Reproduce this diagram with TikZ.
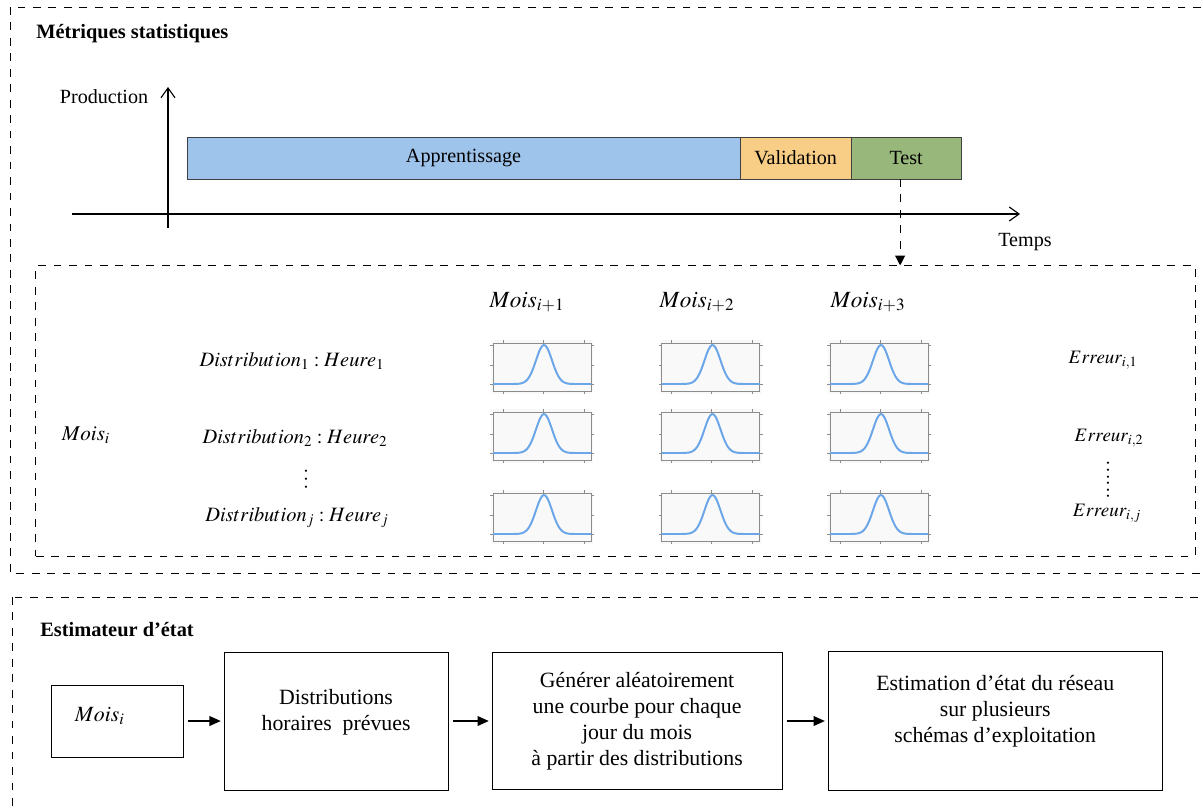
\documentclass[tikz,border=0pt]{standalone}
\usepackage{mathptmx}
\usepackage{fontspec}
\setmainfont{Liberation Serif}
\usetikzlibrary{
	positioning,
	arrows.meta
}
\definecolor{apprcolor}{HTML}{9FC4EC}
\definecolor{validcolor}{HTML}{F8CD86}
\definecolor{testcolor}{HTML}{98B77A}
\definecolor{curvecolor}{HTML}{6AA6E8}
\definecolor{plotframe}{HTML}{8C8C8C}
\tikzset{
	phasenode/.style={
		draw=black!75,
		line width=0.6pt,
		minimum height=1.05cm,
		inner sep=0pt,
		outer sep=0pt,
		font=\fontsize{14.3}{17}\selectfont
	},
	blocknode/.style={
		draw=black,
		line width=0.7pt,
		align=center,
		inner sep=0pt,
		font=\fontsize{15.5}{18.5}\selectfont
	},
	zonenode/.style={
		draw,
		dashed,
		dash pattern=on 5.5pt off 5.5pt,
		line width=0.7pt,
		inner sep=0pt
	},
	zoneline/.style={
		dashed,
		dash pattern=on 5.5pt off 5.5pt,
		line width=0.7pt
	},
	titlenode/.style={
		anchor=west,
		inner sep=0pt,
		font=\fontsize{14.5}{17}\selectfont\bfseries
	},
	textlabel/.style={
		inner sep=0pt,
		font=\fontsize{14.3}{17}\selectfont
	},
	mathlabel/.style={
		inner sep=0pt,
		font=\fontsize{14.5}{17}\selectfont
	},
	monthlabel/.style={
		inner sep=0pt,
		font=\fontsize{16.5}{19}\selectfont
	},
	errlabel/.style={
		inner sep=0pt,
		font=\fontsize{13.5}{16}\selectfont
	},
	dotsnode/.style={
		inner sep=0pt,
		rotate=90,
		font=\fontsize{13}{15}\selectfont
	},
	axisarrow/.style={
		-{Straight Barb[length=7pt,width=10pt]},
		line width=0.8pt
	},
	arrow/.style={
		-{Triangle[length=8pt,width=7pt]},
		line width=0.8pt,
		shorten <=3pt,
		shorten >=2pt
	},
	dasharrow/.style={
		-{Triangle[length=7pt,width=7pt]},
		dashed,
		dash pattern=on 5.5pt off 5.5pt,
		line width=0.8pt
	},
	gaussplot/.pic={
		\fill[gray!5] (-51,-26) rectangle (51,28);
		\draw[plotframe, line width=0.5pt] (-49,-23) rectangle (49,25);
		\foreach \t in {-21,-1,18} {
			\draw[plotframe, line width=0.5pt] (-49,\t) -- (-52,\t) (49,\t) -- (52,\t);
		}
		\foreach \t in {-39,1,42} {
			\draw[plotframe, line width=0.5pt] (\t,-23) -- (\t,-26) (\t,25) -- (\t,28);
		}
		\draw[curvecolor, line width=1.4pt] plot[domain=-49:49, samples=61, smooth]
			(\x, {18-39*exp(-0.5*((\x-2)/8)^2)});
	}
}

\begin{document}
\begin{tikzpicture}[x=0.025cm, y=-0.025cm]
	
	\useasboundingbox (0,0) rectangle (1203,811);
	\clip (0,0) rectangle (1203,811);
	
	% Upper zone: statistical metrics
	\draw[zoneline] (10,7) rectangle (1215,573);
	\node[titlenode] (metricstitle) at (36,34) {Métriques statistiques};
	
	% Axes
	\coordinate (yfoot) at (168,228);
	\coordinate (ytip) at (168,87);
	\coordinate (xstart) at (72,214);
	\coordinate (xtip) at (1020,214);
	\draw[axisarrow] (yfoot) -- (ytip);
	\draw[axisarrow] (xstart) -- (xtip);
	\node[textlabel] (prodlabel) at (104,97) {Production};
	\node[textlabel] (tempslabel) at (1025,242) {Temps};
	
	% Data split bar
	\node[phasenode, fill=apprcolor, minimum width=13.825cm] (appr) at (463.5,158) {Apprentissage};
	\node[phasenode, fill=validcolor, minimum width=2.775cm, right=0pt of appr] (valid) {Validation};
	\node[phasenode, fill=testcolor, minimum width=2.75cm, right=0pt of valid] (test) {Test};
	
	% Detail of the test period
	\node[zonenode, minimum width=28.975cm, minimum height=7.25cm] (detailzone) at (615.5,411) {};
	\draw[dasharrow] ([xshift=-0.15cm]test.south) -- ([xshift=-0.15cm]test.south |- detailzone.north);
	
	% Months
	\node[monthlabel] (month1) at (527,302) {$Mois_{i+1}$};
	\node[monthlabel] (month2) at (697,302) {$Mois_{i+2}$};
	\node[monthlabel] (month3) at (868,302) {$Mois_{i+3}$};
	\node[monthlabel, font=\fontsize{15}{18}\selectfont] (monthi) at (86,435) {$Mois_i$};
	
	% Hourly distributions
	\node[mathlabel] (dist1) at (292,361) {$Distribution_1 : Heure_1$};
	\node[mathlabel] (dist2) at (295,438) {$Distribution_2 : Heure_2$};
	\node[dotsnode] (distdots) at (306,479) {.\hspace{2.6pt}.\hspace{2.6pt}.};
	\node[mathlabel] (distj) at (297,518) {$Distribution_j : Heure_j$};
	
	% Curves
	\pic (g11) at (542,366) {gaussplot};
	\pic (g12) at (710.5,366) {gaussplot};
	\pic (g13) at (879,366) {gaussplot};
	\pic (g21) at (542,435) {gaussplot};
	\pic (g22) at (710.5,435) {gaussplot};
	\pic (g23) at (879,435) {gaussplot};
	\pic (g31) at (542,516) {gaussplot};
	\pic (g32) at (710.5,516) {gaussplot};
	\pic (g33) at (879,516) {gaussplot};
	
	% Errors
	\node[errlabel] (err1) at (1103,360) {$Erreur_{i,1}$};
	\node[errlabel] (err2) at (1109,438) {$Erreur_{i,2}$};
	\node[dotsnode] (errdots) at (1108,480) {.\hspace{1.4pt}.\hspace{1.4pt}.\hspace{1.4pt}.\hspace{1.4pt}.\hspace{1.4pt}.};
	\node[errlabel] (errj) at (1107,513) {$Erreur_{i,j}$};
	
	% Lower zone: state estimator
	\draw[zoneline] (12,597) rectangle (1215,830);
	\node[titlenode] (estimtitle) at (40,630) {Estimateur d’état};
	
	\node[blocknode, minimum width=3.275cm, minimum height=1.8cm, align=left,
		text width=2.125cm, inner xsep=0.575cm, text depth=10pt] (monthbox) at (117.5,721) {$Mois_i$};
	\node[blocknode, minimum width=5.6cm, minimum height=3.45cm, text depth=16pt, right=1cm of monthbox] (hourdist)
	{Distributions\\horaires~ prévues};
	\node[blocknode, minimum width=7.25cm, minimum height=3.425cm, right=1.075cm of hourdist] (curvegen)
	{Générer aléatoirement\\une courbe pour chaque\\jour du mois\\à partir des distributions};
	\node[blocknode, minimum width=8.35cm, minimum height=3.475cm, text depth=17pt, right=1.125cm of curvegen] (stateest)
	{Estimation d’état du réseau\\sur plusieurs\\schémas d’exploitation};
	
	% Arrows
	\draw[arrow] (monthbox) -- (hourdist);
	\draw[arrow] (hourdist) -- (curvegen);
	\draw[arrow] (curvegen) -- (stateest);
	
\end{tikzpicture}
\end{document}
